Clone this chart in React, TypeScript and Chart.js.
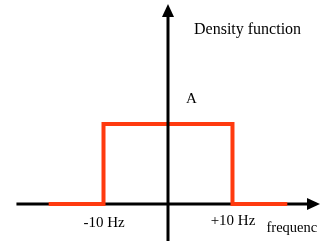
import React, { useEffect, useRef } from "react";
import { Chart, registerables } from "chart.js";

Chart.register(...registerables);

// Data
const frequencies = [-18.5, -10, -10, 10, 10, 18.5];
const density = [0, 0, 1, 1, 0, 0];
const xScaleRange = [-26.05, 23.57];
const yScaleRange = [-0.4625, 2.55];
const xAxisExtent = [-23.5, 23.57];
const yAxisTop = 2.5;
const tickLabels = [
  { x: -10, text: "-10 Hz" },
  { x: 10, text: "+10 Hz" },
];
const amplitudeLabel = "A";
const amplitudeValue = 1;
const yTitle = "Density function";
const xTitle = "frequenc";

const SERIF = "Liberation Serif, Times New Roman, serif";

const axesPlugin = {
  id: "axesPlugin",
  beforeDatasetsDraw(chart: any) {
    const { ctx, scales } = chart;
    const xs = scales.x;
    const ys = scales.y;
    const y0 = ys.getPixelForValue(0);
    const left = xs.getPixelForValue(xAxisExtent[0]);
    const right = xs.getPixelForValue(xAxisExtent[1]);
    ctx.save();
    ctx.strokeStyle = "#000";
    ctx.fillStyle = "#000";
    ctx.lineWidth = 3;
    ctx.beginPath();
    ctx.moveTo(left, y0);
    ctx.lineTo(right - 10, y0);
    ctx.stroke();
    ctx.beginPath();
    ctx.moveTo(right, y0);
    ctx.lineTo(right - 13, y0 - 6);
    ctx.lineTo(right - 13, y0 + 6);
    ctx.closePath();
    ctx.fill();
    ctx.restore();
  },
  afterDatasetsDraw(chart: any) {
    const { ctx, scales } = chart;
    const xs = scales.x;
    const ys = scales.y;
    const x0 = xs.getPixelForValue(0);
    const y0 = ys.getPixelForValue(0);
    const top = ys.getPixelForValue(yAxisTop);
    const bottom = ys.getPixelForValue(yScaleRange[0]);
    ctx.save();
    ctx.strokeStyle = "#000";
    ctx.fillStyle = "#000";
    ctx.lineWidth = 3;
    ctx.beginPath();
    ctx.moveTo(x0, bottom);
    ctx.lineTo(x0, top + 10);
    ctx.stroke();
    ctx.beginPath();
    ctx.moveTo(x0, top);
    ctx.lineTo(x0 - 6, top + 13);
    ctx.lineTo(x0 + 6, top + 13);
    ctx.closePath();
    ctx.fill();

    ctx.textBaseline = "alphabetic";
    ctx.font = "15px " + SERIF;
    ctx.textAlign = "center";
    ctx.fillText(tickLabels[0].text, xs.getPixelForValue(tickLabels[0].x) + 0.5, y0 + 23);
    ctx.fillText(tickLabels[1].text, xs.getPixelForValue(tickLabels[1].x) + 0.5, y0 + 20.5);
    ctx.textAlign = "left";
    ctx.fillText(amplitudeLabel, x0 + 18, ys.getPixelForValue(amplitudeValue) - 21);
    ctx.font = "14.5px " + SERIF;
    ctx.fillText(xTitle, x0 + 98.5, y0 + 27.5);
    ctx.font = "16px " + SERIF;
    ctx.fillText(yTitle, x0 + 26, top + 30);
    ctx.restore();
  },
};

export default function App() {
  const ref = useRef<HTMLCanvasElement | null>(null);
  useEffect(() => {
    if (!ref.current) return;
    let chart: Chart | null = null;
    let cancelled = false;
    const make = () => {
      if (cancelled || !ref.current) return;
      chart = new Chart(ref.current, {
        type: "line",
        data: {
          datasets: [
            {
              data: frequencies.map((f, i) => ({ x: f, y: density[i] })),
              borderColor: "#ff3a0f",
              borderWidth: 4,
              pointRadius: 0,
              fill: false,
              tension: 0,
              borderJoinStyle: "miter",
            } as any,
          ],
        },
        options: {
          animation: false,
          responsive: false,
          maintainAspectRatio: false,
          layout: { padding: 0 },
          plugins: { legend: { display: false }, tooltip: { enabled: false } },
          scales: {
            x: { type: "linear", min: xScaleRange[0], max: xScaleRange[1], display: false },
            y: { type: "linear", min: yScaleRange[0], max: yScaleRange[1], display: false },
          },
        },
        plugins: [axesPlugin],
      });
    };
    const fonts = (document as any).fonts;
    if (fonts && fonts.load) {
      fonts.load("15px 'Liberation Serif'").then(make, make);
    } else {
      make();
    }
    return () => {
      cancelled = true;
      if (chart) chart.destroy();
    };
  }, []);
  return (
    <div style={{ position: "fixed", left: 0, top: 0, width: 320, height: 241, background: "#fff" }}>
      <canvas ref={ref} width={320} height={241} style={{ width: 320, height: 241 }} />
    </div>
  );
}
